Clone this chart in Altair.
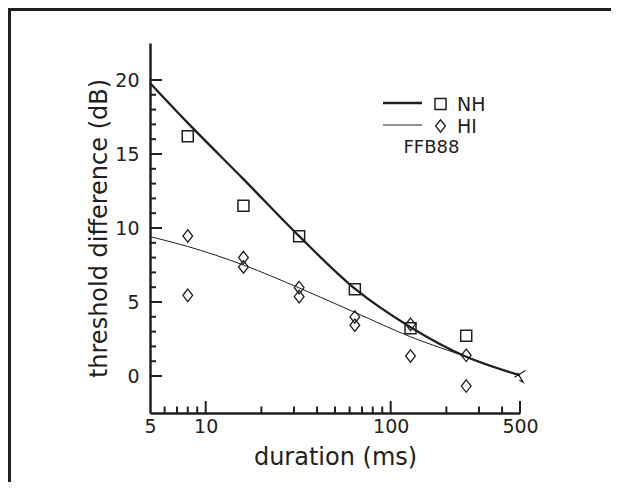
import altair as alt
import pandas as pd

# ---- data ----
fit_ms = [5, 8, 16, 32, 64, 128, 256, 500]
nh_fit = [19.8, 17.1, 13.3, 9.45, 5.9, 3.3, 1.3, 0.05]
hi_fit = [9.42, 8.75, 7.5, 5.95, 4.3, 2.65, 1.3, 0.0]

nh_ms = [8, 16, 32, 64, 128, 256]
nh_db = [16.2, 11.5, 9.45, 5.86, 3.22, 2.72]

hi_ms = [8, 8, 16, 16, 32, 32, 64, 64, 128, 128, 256, 256]
hi_db = [9.46, 5.45, 8.0, 7.37, 5.97, 5.36, 3.99, 3.43, 3.49, 1.35, 1.40, -0.68]

end_ms = [500]
end_db = [0.0]

x_labels = [5, 10, 100, 500]
x_major = [10, 100, 500]
x_minor = [6, 7, 8, 9, 20, 30, 40, 50, 60, 70, 80, 90, 200, 300, 400]
y_labels = [0, 5, 10, 15, 20]
y_major = [0, 5, 10, 15, 20]
y_minor = [1, 2, 3, 4, 6, 7, 8, 9, 11, 12, 13, 14, 16, 17, 18, 19]

legend_names = ["NH", "HI"]
note = "FFB88"

INK = "#231f20"
W, H = 370, 370

xs = alt.Scale(type="log", domain=[5, 500], nice=False)
ys = alt.Scale(domain=[-2.5, 22.5], nice=False)

fit_df = pd.DataFrame({"ms": fit_ms, "nh": nh_fit, "hi": hi_fit})
one = pd.DataFrame({"a": [0]})

x_axis = alt.Axis(values=x_labels, format="d", grid=False, ticks=False,
                  domainColor=INK, domainWidth=2.5, labelFontSize=19,
                  labelColor=INK, labelPadding=4, labelFlush=False,
                  labelOverlap=False, labelBound=False,
                  title="duration (ms)", titleFontSize=24,
                  titleFontWeight="normal", titleColor=INK,
                  titleX=W / 2, titleY=51, titleBaseline="alphabetic")
y_axis = alt.Axis(values=y_labels, grid=False, ticks=False,
                  domainColor=INK, domainWidth=2.5, labelFontSize=19,
                  labelColor=INK, labelPadding=11, labelOverlap=False,
                  labelBound=False,
                  title="threshold difference (dB)", titleFontSize=24,
                  titleFontWeight="normal", titleColor=INK,
                  titleX=-44, titleY=H / 2, titleBaseline="alphabetic")


def X(field):
    return alt.X(field, scale=xs, axis=x_axis)


def Y(field):
    return alt.Y(field, scale=ys, axis=y_axis)


nh_line = alt.Chart(fit_df).mark_line(color=INK, strokeWidth=2.3, interpolate="monotone").encode(
    x=X("ms:Q"), y=Y("nh:Q"))
hi_line = alt.Chart(fit_df).mark_line(color=INK, strokeWidth=1.0, interpolate="monotone").encode(
    x=X("ms:Q"), y=Y("hi:Q"))

diamond = "M0,-1L0.78,0L0,1L-0.78,0Z"
tick_x = "M-0.9,0.2L0.9,-0.9M-0.4,-0.5L0.5,1L-0.1,0.7"

squares = alt.Chart(pd.DataFrame({"ms": nh_ms, "db": nh_db})).mark_point(
    shape="square", size=121, filled=False, color=INK, strokeWidth=1.5, opacity=1).encode(
    x=X("ms:Q"), y=Y("db:Q"))
diamonds = alt.Chart(pd.DataFrame({"ms": hi_ms, "db": hi_db})).mark_point(
    shape=diamond, size=156, filled=False, color=INK, strokeWidth=1.3, opacity=1).encode(
    x=X("ms:Q"), y=Y("db:Q"))
endmark = alt.Chart(pd.DataFrame({"ms": end_ms, "db": end_db})).mark_point(
    shape=tick_x, size=150, filled=False, color=INK, strokeWidth=1.3, opacity=1).encode(
    x=X("ms:Q"), y=Y("db:Q"))


# inward ticks
def yticks(vals, length):
    return alt.Chart(pd.DataFrame({"v": vals})).mark_rule(color=INK, strokeWidth=2).encode(
        y=Y("v:Q"), x=alt.value(0), x2=alt.value(length))


def xticks(vals, length):
    return alt.Chart(pd.DataFrame({"v": vals})).mark_rule(color=INK, strokeWidth=2).encode(
        x=X("v:Q"), y=alt.value(H), y2=alt.value(H - length))


# legend
leg_nh_line = alt.Chart(one).mark_rule(color=INK, strokeWidth=2.3).encode(
    x=alt.value(233), x2=alt.value(272), y=alt.value(60))
leg_hi_line = alt.Chart(one).mark_rule(color=INK, strokeWidth=1.0).encode(
    x=alt.value(233), x2=alt.value(272), y=alt.value(82))
leg_sq = alt.Chart(one).mark_point(shape="square", size=121, filled=False, color=INK,
                                   strokeWidth=1.5, opacity=1).encode(
    x=alt.value(290.5), y=alt.value(61))
leg_di = alt.Chart(one).mark_point(shape=diamond, size=156, filled=False, color=INK,
                                   strokeWidth=1.3, opacity=1).encode(
    x=alt.value(290.5), y=alt.value(83))
leg_t1 = alt.Chart(one).mark_text(align="left", baseline="middle", fontSize=19, color=INK).encode(
    x=alt.value(307), y=alt.value(62), text=alt.value(legend_names[0]))
leg_t2 = alt.Chart(one).mark_text(align="left", baseline="middle", fontSize=19, color=INK).encode(
    x=alt.value(307), y=alt.value(84), text=alt.value(legend_names[1]))
leg_t3 = alt.Chart(one).mark_text(align="center", baseline="middle", fontSize=18, color=INK).encode(
    x=alt.value(281.5), y=alt.value(105), text=alt.value(note))

# outer frame (top and left edges)
frame_left = alt.Chart(one).mark_rule(color=INK, strokeWidth=3).encode(
    x=alt.value(-140.5), y=alt.value(-33.5), y2=alt.value(440))
frame_top = alt.Chart(one).mark_rule(color=INK, strokeWidth=3).encode(
    x=alt.value(-142), x2=alt.value(461), y=alt.value(-33.5))

chart = alt.layer(
    nh_line, hi_line, squares, diamonds, endmark,
    yticks(y_major, 12), yticks(y_minor, 6),
    xticks(x_major, 12), xticks(x_minor, 6.5),
    leg_nh_line, leg_hi_line, leg_sq, leg_di, leg_t1, leg_t2, leg_t3,
    frame_left, frame_top,
).properties(
    width=W, height=H,
    autosize=alt.AutoSizeParams(type="none"),
    padding={"left": 142, "top": 35, "right": 91, "bottom": 69},
    background="white",
).configure(
    font="DejaVu Sans",
).configure_view(stroke=None)

chart.save("out.html", embed_options={"renderer": "svg", "actions": False})
